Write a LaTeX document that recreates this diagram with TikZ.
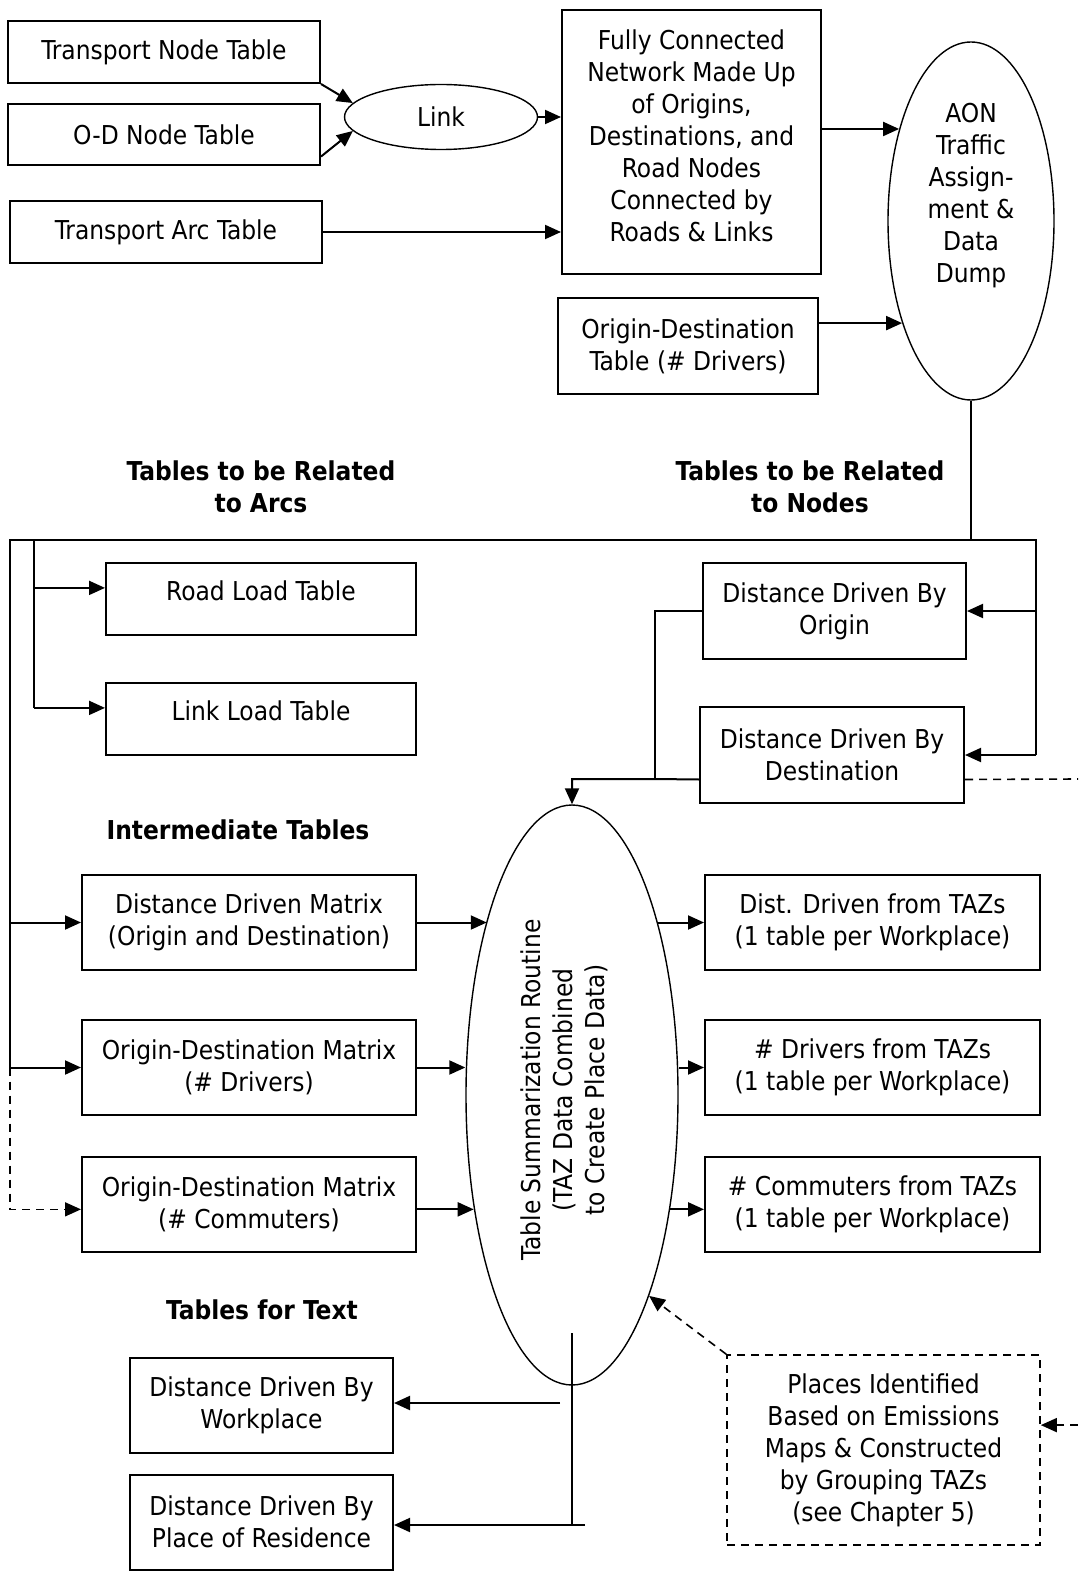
\documentclass[tikz,border=0pt]{standalone}
\usepackage{fontspec}
\setmainfont{DejaVu Sans Condensed}
\usepackage{tikz}
\usetikzlibrary{calc,shapes.geometric,arrows.meta}

\begin{document}
\begin{tikzpicture}[x=0.5pt, y=-0.5pt,
    txt/.style={font=\fontsize{13}{16}\selectfont, align=center, inner sep=0pt},
    box/.style={txt, draw, line width=1pt},
    oval/.style={txt, draw, ellipse, line width=0.7pt},
    head/.style={font=\bfseries\fontsize{13}{16}\selectfont, align=center, inner sep=0pt},
    arr/.style={line width=1pt, -{Triangle[length=8pt,width=7pt]}},
    wire/.style={line width=1pt},
    dashline/.style={line width=0.8pt, dash pattern=on 4pt off 3pt}]

    \useasboundingbox (0,0) rectangle (1078,1572);

    % Network input tables
    \node[box, minimum width=156pt, minimum height=31pt] (tnt) at (164,52) {Transport Node Table};
    \node[box, minimum width=156pt, minimum height=30.5pt] (odn) at (164,134.5) {O-D Node Table};
    \node[box, minimum width=156pt, minimum height=31pt] (tat) at (166,232) {Transport Arc Table};
    \node[oval, minimum width=96.5pt, minimum height=32.5pt] (link) at (441,117) {Link};

    \node[box, minimum width=129.5pt, minimum height=132pt, text depth=6pt] (fcn) at (691.5,142) {Fully Connected\\Network Made Up\\of Origins,\\Destinations, and\\Road Nodes\\Connected by\\Roads \& Links};
    \node[box, minimum width=130pt, minimum height=48pt] (odt) at (688,346) {Origin-Destination\\Table (\# Drivers)};

    % Traffic assignment
    \node[oval, minimum width=83pt, minimum height=179pt] (aon) at (971,221) {};
    \node[txt] (aontxt) at (971,195.5) {AON\\Traffic\\Assign-\\ment \&\\Data\\Dump};

    \draw[arr] (tnt.south east) -- (link.171);
    \draw[arr] ($(odn.south east)!0.15!(odn.north east)$) -- (link.189);
    \draw[arr] (link.east) -- (link.east -| fcn.west);
    \draw[arr] (tat.east) -- (tat.east -| fcn.west);
    \draw[arr] (aon.128 -| fcn.east) -- (aon.128);
    \draw[arr] (aon.236 -| odt.east) -- (aon.236);

    % Output bus
    \node[head] (arcs) at (261,487) {Tables to be Related\\to Arcs};
    \node[head] (nodes) at (810,487) {Tables to be Related\\to Nodes};

    \coordinate (busL) at (10,540);
    \coordinate (busI) at (34,540);
    \coordinate (busR) at (1036,540);

    \node[box, minimum width=155pt, minimum height=36pt, text depth=8pt] (road) at (261,599) {Road Load Table};
    \node[box, minimum width=155pt, minimum height=36pt, text depth=8pt] (lnk) at (261,719) {Link Load Table};
    \node[box, minimum width=131.5pt, minimum height=48pt] (ddo) at (834.5,611) {Distance Driven By\\Origin};
    \node[box, minimum width=132pt, minimum height=48pt] (ddd) at (832,755) {Distance Driven By\\Destination};

    % Summarization routine
    \node[head] (inter) at (238,830) {Intermediate Tables};
    \node[oval, minimum width=106pt, minimum height=290pt] (tsr) at (572,1095) {};
    \node[txt, rotate=90] (tsrtxt) at (564,1090) {Table Summarization Routine\\(TAZ Data Combined\\to Create Place Data)};

    \node[box, minimum width=167pt, minimum height=47.5pt] (ddm) at (249,922.5) {Distance Driven Matrix\\(Origin and Destination)};
    \node[box, minimum width=167pt, minimum height=47.5pt] (odd) at (249,1067.5) {Origin-Destination Matrix\\(\# Drivers)};
    \node[box, minimum width=167pt, minimum height=47.5pt] (odc) at (249,1204.5) {Origin-Destination Matrix\\(\# Commuters)};

    \node[box, minimum width=167.5pt, minimum height=47.5pt] (rdd) at (872.5,922.5) {Dist. Driven from TAZs\\(1 table per Workplace)};
    \node[box, minimum width=167.5pt, minimum height=47.5pt] (rdr) at (872.5,1067.5) {\# Drivers from TAZs\\(1 table per Workplace)};
    \node[box, minimum width=167.5pt, minimum height=47.5pt] (rcm) at (872.5,1204.5) {\# Commuters from TAZs\\(1 table per Workplace)};

    % Bus lines and arrows
    \coordinate (roadin) at ($(road.north west)!0.35!(road.south west)$);
    \coordinate (lnkin) at ($(lnk.north west)!0.35!(lnk.south west)$);

    \draw[line width=0.6pt] (aon.south) -- (aon.south |- busR);
    \draw[wire] (busL |- odd.west) -- (busL) -- (busR) -- (busR |- ddd.east);
    \draw[wire] (busI) -- (busI |- lnkin);
    \draw[arr] (busI |- roadin) -- (roadin);
    \draw[arr] (busI |- lnkin) -- (lnkin);
    \draw[arr] (busR |- ddo.east) -- (ddo.east);
    \draw[arr] (busR |- ddd.east) -- (ddd.east);

    \coordinate (dddout) at ($(ddd.south west)!0.25!(ddd.north west)$);
    \coordinate (join) at (655,779);
    \draw[wire] (ddo.west) -| (join);
    \draw[arr] (dddout) -- (join) -| (tsr.north);

    \coordinate (dddcut) at ($(ddd.south east)!0.25!(ddd.north east)$);
    \coordinate (edgeA) at (1078,779);
    \draw[dashline] (dddcut) -- (edgeA);

    \coordinate (odcin) at ($(odc.north west)!0.55!(odc.south west)$);
    \coordinate (odcout) at ($(odc.north east)!0.55!(odc.south east)$);
    \coordinate (rcmin) at ($(rcm.north west)!0.55!(rcm.south west)$);

    \draw[arr] (busL |- ddm.west) -- (ddm.west);
    \draw[arr] (busL |- odd.west) -- (odd.west);
    \draw[arr, dashline] (busL |- odd.west) -- (busL |- odcin) -- (odcin);

    \draw[arr] (ddm.east) -- (ddm.east -| tsr.116);
    \draw[arr] (odd.east) -- (odd.east -| tsr.west);
    \draw[arr] (odcout) -- (odcout -| tsr.229);

    \draw[arr] (rdd.west -| tsr.64) -- (rdd.west);
    \draw[arr] (rdr.west -| tsr.east) -- (rdr.west);
    \draw[arr] (rcmin -| tsr.311) -- (rcmin);

    % Text tables
    \node[head] (forText) at (262,1310) {Tables for Text};
    \node[box, minimum width=131.5pt, minimum height=47.5pt] (ddw) at (261.5,1405.5) {Distance Driven By\\Workplace};
    \node[box, minimum width=131.5pt, minimum height=47.5pt] (ddr) at (261.5,1522) {Distance Driven By\\Place of Residence};

    \coordinate (stemTop) at (572,1333);
    \coordinate (stemBot) at (572,1525);
    \coordinate (wpStart) at (560,1403);
    \coordinate (resStart) at (585,1525);
    \draw[line width=0.6pt] (stemTop) -- (stemBot);
    \draw[arr] (wpStart) -- (wpStart -| ddw.east);
    \draw[arr] (resStart) -- (resStart -| ddr.east);

    % Place definitions
    \node[box, dashline, minimum width=156.5pt, minimum height=95pt] (places) at (883.5,1450) {Places Identified\\Based on Emissions\\Maps \& Constructed\\by Grouping TAZs\\(see Chapter 5)};
    \draw[arr, dashline] (places.north west) -- (tsr.291);

    \coordinate (placesin) at ($(places.north east)!0.37!(places.south east)$);
    \coordinate (edgeB) at (1078,1425);
    \draw[arr, dashline] (placesin -| edgeB) -- (placesin);

\end{tikzpicture}
\end{document}
